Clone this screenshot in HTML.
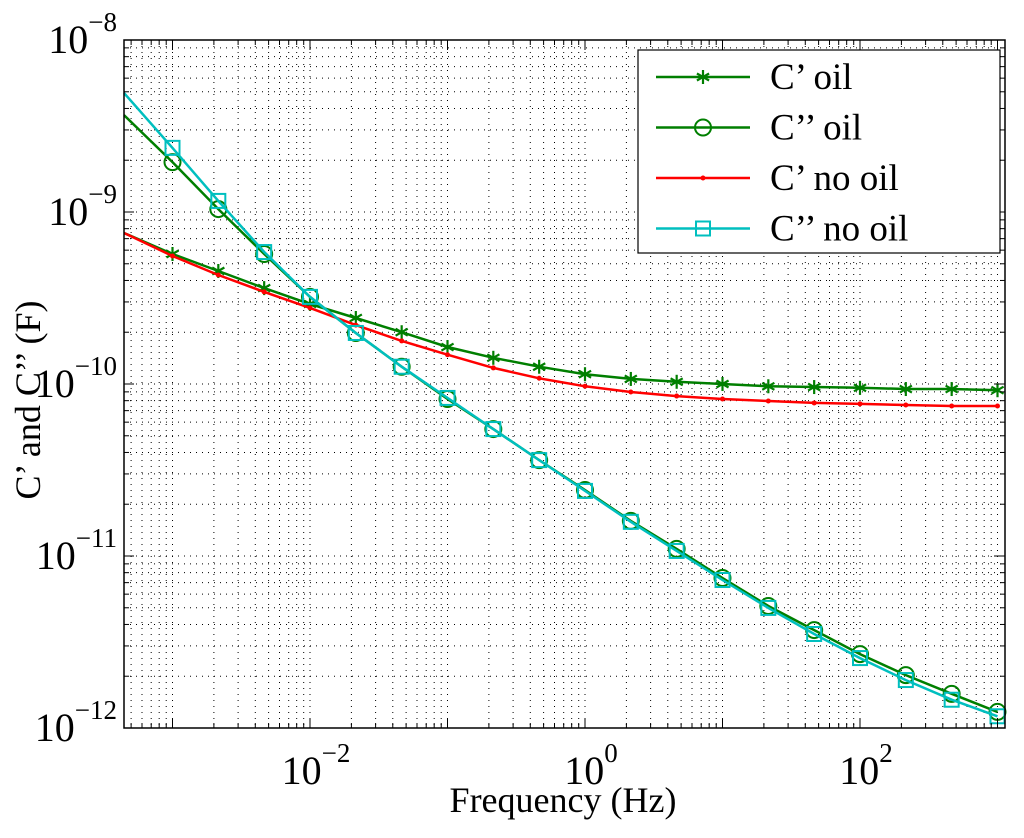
<!DOCTYPE html>
<html><head><meta charset="utf-8"><style>
html,body{margin:0;padding:0;background:#fff;}
svg{display:block;font-family:"Liberation Serif",serif;}
</style></head><body>
<svg id="chart" width="1024" height="838" viewBox="0 0 1024 838" xmlns="http://www.w3.org/2000/svg">
<rect width="1024" height="838" fill="#fff"/>
<g id="grid"></g>
<g id="series"></g>
<g id="axes"></g>
</svg>
<script>
const freqs = [4.44e-4,1e-3,2.154e-3,4.642e-3,1e-2,2.154e-2,4.642e-2,0.1,0.2154,0.4642,1,2.154,4.642,10,21.54,46.42,100,215.4,464.2,1000];
const cpOil = [7.55e-10,5.70e-10,4.54e-10,3.61e-10,2.92e-10,2.42e-10,2.00e-10,1.64e-10,1.42e-10,1.26e-10,1.14e-10,1.07e-10,1.03e-10,1.0e-10,9.7e-11,9.6e-11,9.5e-11,9.35e-11,9.35e-11,9.2e-11];
const cppOil = [3.66e-9,1.95e-9,1.04e-9,5.70e-10,3.21e-10,1.98e-10,1.26e-10,8.18e-11,5.47e-11,3.61e-11,2.42e-11,1.60e-11,1.10e-11,7.45e-12,5.12e-12,3.71e-12,2.69e-12,2.03e-12,1.58e-12,1.24e-12];
const cpNoOil = [7.55e-10,5.55e-10,4.30e-10,3.43e-10,2.77e-10,2.20e-10,1.78e-10,1.48e-10,1.24e-10,1.08e-10,9.7e-11,8.98e-11,8.51e-11,8.18e-11,7.96e-11,7.76e-11,7.66e-11,7.55e-11,7.45e-11,7.45e-11];
const cppNoOil = [4.92e-9,2.36e-9,1.16e-9,5.85e-10,3.21e-10,1.98e-10,1.26e-10,8.3e-11,5.47e-11,3.61e-11,2.39e-11,1.58e-11,1.07e-11,7.25e-12,4.99e-12,3.52e-12,2.55e-12,1.90e-12,1.46e-12,1.17e-12];
const xTickExps = [-2,0,2];
const yTickExps = [-8,-9,-10,-11,-12];
const seriesNames = ["C’ oil","C’’ oil","C’ no oil","C’’ no oil"];

const NS="http://www.w3.org/2000/svg";
const L=124,R=1005,T=40,B=728;
const X0=585, XDEC=137.5;
function xs(v){return X0+Math.log10(v)*XDEC;}
function ys(v){return T+(-8-Math.log10(v))*172;}
function mk(tag,attrs,parent){const e=document.createElementNS(NS,tag);for(const k in attrs)e.setAttribute(k,attrs[k]);parent.appendChild(e);return e;}
const grid=document.getElementById('grid'), ser=document.getElementById('series'), axes=document.getElementById('axes');
for(let d=-4;d<=3;d++){for(let m=1;m<=9;m++){const v=m*Math.pow(10,d);const x=xs(v);if(x<=L+0.5||x>=R-0.5)continue;
 const ln=mk('line',{x1:x,y1:T,x2:x,y2:B,stroke:'#000','stroke-width':1,'stroke-dasharray':'1 5'},grid);
 }}
for(let d=-12;d<=-9;d++){for(let m=1;m<=9;m++){const v=m*Math.pow(10,d);const y=ys(v);if(y<=T+0.5||y>=B-0.5)continue;
 const ln=mk('line',{x1:L,y1:y,x2:R,y2:y,stroke:'#000','stroke-width':1,'stroke-dasharray':'1 5'},grid);
 }}
const defs=[[cpOil,'#007f00','star'],[cppOil,'#007f00','circle'],[cpNoOil,'#ff0000','dot'],[cppNoOil,'#00bfbf','square']];
function marker(type,x,y,c,g){
 if(type==='circle')mk('circle',{cx:x,cy:y,r:8,fill:'none',stroke:c,'stroke-width':2},g);
 else if(type==='square')mk('rect',{x:x-7,y:y-7,width:14,height:14,fill:'none',stroke:c,'stroke-width':2},g);
 else if(type==='dot')mk('circle',{cx:x,cy:y,r:2.5,fill:c},g);
 else{for(const a of [0,60,120]){const r=(a+90)*Math.PI/180,dx=7*Math.cos(r),dy=7*Math.sin(r);mk('line',{x1:x-dx,y1:y-dy,x2:x+dx,y2:y+dy,stroke:c,'stroke-width':2.2},g);}}
}
defs.forEach((d,i)=>{
 const g=mk('g',{},ser);
 
 
 const pts=freqs.map((f,j)=>xs(f).toFixed(1)+','+ys(d[0][j]).toFixed(1)).join(' ');
 const pl=mk('polyline',{points:pts,fill:'none',stroke:d[1],'stroke-width':2.5},g);
 
 freqs.forEach((f,j)=>{if(j===0)return;marker(d[2],xs(f),ys(d[0][j]),d[1],g);});
});
const box=mk('rect',{x:L,y:T,width:R-L,height:B-T,fill:'none',stroke:'#000','stroke-width':1.5},axes);

for(let d=-4;d<=3;d++){for(let m=1;m<=9;m++){const x=xs(m*Math.pow(10,d));if(x<L||x>R)continue;const len=m===1?10:5;
 mk('line',{x1:x,y1:B,x2:x,y2:B-len,stroke:'#000','stroke-width':1},axes);mk('line',{x1:x,y1:T,x2:x,y2:T+len,stroke:'#000','stroke-width':1},axes);}}
for(let d=-12;d<=-8;d++){for(let m=1;m<=9;m++){const y=ys(m*Math.pow(10,d));if(y<T-0.5||y>B+0.5)continue;const len=m===1?10:5;
 mk('line',{x1:L,y1:y,x2:L+len,y2:y,stroke:'#000','stroke-width':1},axes);mk('line',{x1:R,y1:y,x2:R-len,y2:y,stroke:'#000','stroke-width':1},axes);}}
function powLabel(x,y,exp,anchor,name){
 const t=mk('text',{x:x,y:y,'font-size':40,'text-anchor':anchor,fill:'#000'},axes);
 
 t.appendChild(document.createTextNode('10'));
 const s=mk('tspan',{dy:-22,'font-size':27},t);s.textContent=String(exp).replace('-','−');
}
xTickExps.forEach(e=>{powLabel(xs(Math.pow(10,e))+6,B+56,e,'middle','x-tick-label');});
yTickExps.forEach(e=>{powLabel(117,ys(Math.pow(10,e))+13,e,'end','y-tick-label');});
const xl=mk('text',{x:563,y:812,'font-size':36,'text-anchor':'middle',fill:'#000'},axes);xl.textContent='Frequency (Hz)';

const yl=mk('text',{x:0,y:0,'font-size':36,'text-anchor':'middle',fill:'#000',transform:'translate(40,400) rotate(-90)'},axes);yl.textContent='C’ and C’’ (F)';

const lg=mk('g',{},axes);


mk('rect',{x:638,y:50,width:362,height:203,fill:'#fff',stroke:'#000','stroke-width':1.2},lg);
seriesNames.forEach((n,i)=>{const y=77+i*50.5;const d=defs[i];
 const e=mk('g',{},lg);
 
 
 mk('line',{x1:656,y1:y,x2:750,y2:y,stroke:d[1],'stroke-width':2.5},e);
 marker(d[2],703,y,d[1],e);
 const t=mk('text',{x:770,y:y+12,'font-size':37,fill:'#000'},e);t.textContent=n;});
</script>
</body></html>
